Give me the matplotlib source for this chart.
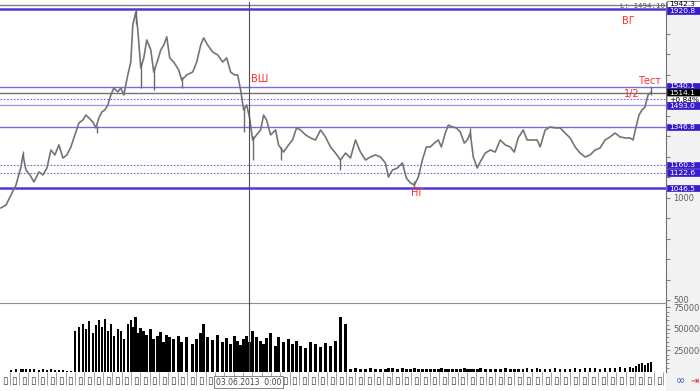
import numpy as np
import matplotlib
matplotlib.use("Agg")
import matplotlib.pyplot as plt
from matplotlib.patches import Rectangle

# time index of each bar (chart bar positions) and closing price
bar_t = [0, 5, 10, 15, 20, 22, 25, 29, 33, 38,
         42, 46, 50, 54, 58, 62, 66, 70, 74, 78,
         82, 85, 88, 92, 95, 98, 101, 104, 107, 110,
         113, 117, 120, 123, 127, 130, 132, 135, 137, 140,
         143, 146, 150, 153, 157, 160, 163, 166, 169, 173,
         178, 181, 186, 192, 196, 200, 203, 207, 212, 217,
         222, 226, 230, 234, 237, 240, 243, 246, 249, 252,
         256, 260, 263, 266, 270, 275, 278, 283, 288, 292,
         296, 300, 305, 310, 315, 320, 325, 330, 335, 340,
         345, 350, 355, 360, 365, 370, 375, 380, 385, 388,
         392, 397, 402, 406, 410, 414, 418, 422, 426, 430,
         434, 438, 441, 445, 448, 452, 456, 460, 464, 467,
         470, 473, 477, 480, 485, 490, 495, 500, 505, 510,
         514, 518, 523, 527, 532, 537, 540, 545, 550, 555,
         560, 565, 570, 575, 580, 585, 590, 595, 600, 605,
         610, 615, 620, 625, 630, 633, 636, 639, 642, 645,
         648, 651]

close = [950, 964, 1013, 1062, 1150, 1209, 1135, 1111, 1077, 1126,
         1111, 1145, 1233, 1209, 1258, 1194, 1209, 1248, 1307, 1365,
         1380, 1404, 1390, 1370, 1341, 1390, 1419, 1429, 1453, 1502,
         1536, 1517, 1536, 1502, 1600, 1663, 1844, 1908, 1820, 1634,
         1683, 1771, 1722, 1614, 1673, 1722, 1746, 1786, 1683, 1663,
         1624, 1575, 1600, 1614, 1663, 1746, 1781, 1746, 1712, 1698,
         1663, 1683, 1614, 1600, 1600, 1526, 1429, 1453, 1390, 1282,
         1307, 1331, 1404, 1380, 1307, 1331, 1258, 1223, 1258, 1282,
         1341, 1331, 1307, 1292, 1282, 1331, 1297, 1248, 1218, 1184,
         1218, 1194, 1282, 1223, 1184, 1199, 1209, 1199, 1170, 1101,
         1135, 1145, 1170, 1096, 1072, 1062, 1101, 1184, 1248, 1248,
         1267, 1282, 1248, 1316, 1355, 1346, 1341, 1321, 1267, 1282,
         1316, 1199, 1145, 1175, 1218, 1233, 1223, 1282, 1258, 1248,
         1223, 1292, 1331, 1282, 1282, 1282, 1248, 1331, 1346, 1341,
         1341, 1316, 1292, 1248, 1218, 1199, 1209, 1233, 1243, 1282,
         1297, 1316, 1297, 1292, 1292, 1282, 1346, 1404, 1429, 1443,
         1502, 1514]

# volume in thousands
volume_k = [0, 0, 25, 30, 35, 30, 35, 30, 30, 25,
            30, 25, 30, 20, 20, 20, 15, 15, 480, 520,
            560, 500, 590, 450, 540, 600, 520, 610, 480, 560,
            420, 500, 470, 380, 560, 600, 520, 640, 450, 510,
            470, 430, 500, 380, 420, 460, 350, 430, 400, 380,
            420, 350, 400, 330, 380, 450, 560, 400, 370, 430,
            350, 390, 330, 420, 360, 310, 380, 420, 350, 470,
            400, 360, 330, 390, 450, 300, 410, 350, 380, 330,
            360, 300, 280, 350, 320, 290, 340, 300, 360, 640,
            560, 40, 45, 35, 40, 45, 40, 35, 40, 45,
            50, 40, 45, 40, 35, 45, 40, 40, 35, 40,
            35, 40, 45, 40, 35, 40, 35, 40, 45, 40,
            40, 35, 40, 45, 40, 40, 35, 40, 45, 40,
            35, 40, 35, 45, 40, 45, 40, 35, 40, 45,
            40, 35, 40, 45, 40, 45, 50, 45, 40, 50,
            45, 50, 55, 45, 60, 50, 70, 90, 110, 80,
            100, 120]

# spikes (high/low wicks) at notable bars
wick_t = [22, 96, 135, 140, 153, 181, 243, 252, 280, 340, 414, 470, 651]
wick_hi = [1228, 1350, 1920.8, 1660, 1640, 1590, 1440, 1300, 1250, 1190, 1080, 1341, 1540.1]
wick_lo = [1200, 1318, 1850, 1536, 1526, 1536, 1321, 1184, 1184, 1135, 1046.5, 1290, 1500]

# horizontal levels
solid_levels = [1540.1, 1346.8]
thick_levels = [1920.8, 1046.5]
dotted_levels = [1483.7, 1160.3, 1122.6]
light_level = 1452
last_price = 1514.1
max_price = 1942.3
marker_t = 248

# price tags on the right scale (text, centre value after stacking)
tag_text = ["1942.3", "1920.8", "1540.1", "1514.1", "+0.84%", "1493.0",
            "1346.8", "1160.3", "1122.6", "1046.5"]
tag_pos = [1947, 1915, 1546, 1514, 1482, 1451, 1346.8, 1160.3, 1122.6, 1046.5]
tag_kind = ["max", "lvl", "lvl", "last", "pct", "lvl", "lvl", "lvl", "lvl", "lvl"]

violet = "#7a66e6"
dark_violet = "#5038d8"
box_blue = "#3a1ccc"
tag_style = {"max": ("white", "black", "#606060"),
             "lvl": (box_blue, "white", box_blue),
             "last": ("black", "white", "black"),
             "pct": ("white", "black", "#a0a0a0")}

fig = plt.figure(figsize=(7, 3.91), dpi=100)
fig.patch.set_facecolor("white")
fig.patches.append(Rectangle((0.9514, 0), 0.0486, 1, transform=fig.transFigure,
                             color="#f2f2f2", zorder=-1))

ax = fig.add_axes([0, 0.2251, 0.9514, 0.7698])
axv = fig.add_axes([0, 0.0486, 0.9514, 0.1765], sharex=ax)

for a in (ax, axv):
    a.set_facecolor("white")
    for s in ("left", "top", "bottom"):
        a.spines[s].set_visible(False)
    a.spines["right"].set_color("#707070")
    a.yaxis.tick_right()
    a.tick_params(axis="y", direction="out", length=3, color="#808080",
                  labelsize=6, labelcolor="#606060", pad=2)
axv.spines["top"].set_visible(True)
axv.spines["top"].set_color("#909090")

# price bars
ax.plot(bar_t, close, color="#747474", lw=1.2, zorder=3)
ax.vlines(wick_t, wick_lo, wick_hi, color="#6a6a6a", lw=1.0, zorder=3)

# levels
ax.axhline(max_price, color="#808080", lw=1.0, zorder=2)
for lv in thick_levels:
    ax.axhline(lv, color=dark_violet, lw=1.8, zorder=2)
for lv in solid_levels:
    ax.axhline(lv, color=violet, lw=1.0, zorder=2)
for lv in dotted_levels:
    ax.axhline(lv, color=violet, lw=0.8, ls=(0, (1.5, 1.5)), zorder=2)
ax.axhline(light_level, color="#a898f0", lw=1.0, zorder=2)
ax.axhline(last_price, color="#707070", lw=1.0, zorder=2)

ax.set_xlim(-1, 666)
ax.set_ylim(485.3, 1956.5)
ax.set_yticks(np.arange(500, 2000, 100))
ax.set_yticklabels(["500" if v == 500 else ("1000" if v == 1000 else "")
                    for v in np.arange(500, 2000, 100)])
ax.tick_params(axis="x", bottom=False, labelbottom=False)

# right side price tags: fixed-height boxes (about 6.5 px)
tr = ax.get_yaxis_transform()
box_h = 30.5
for txt, yv, kind in zip(tag_text, tag_pos, tag_kind):
    fc, tc, ec = tag_style[kind]
    ax.add_patch(Rectangle((1.002, yv - box_h / 2), 0.06, box_h, transform=tr,
                           fc=fc, ec=ec, lw=0.5, clip_on=False, zorder=6))
    ax.text(1.005, yv, txt, transform=tr, ha="left", va="center_baseline",
            fontsize=5.4, color=tc, clip_on=False, zorder=7)

ax.text(0.998, 0.997, "L: 1494.10", transform=ax.transAxes, ha="right", va="top",
        fontsize=5.3, family="DejaVu Sans Mono", color="#505050")

# red annotations
red = "#ff2a2a"
ax.text(628, 1865, "ВГ", color=red, fontsize=7, ha="center", va="center")
ax.text(250, 1578, "ВШ", color=red, fontsize=7, ha="left", va="center")
ax.text(417, 1025, "НГ", color=red, fontsize=7, ha="center", va="center")
ax.text(632, 1507, "1/2", color=red, fontsize=7, ha="center", va="center")
ax.text(650, 1570, "Тест", color=red, fontsize=7, ha="center", va="center")

ax.axvline(marker_t, color="#505050", lw=0.8, zorder=4)

# volume
axv.bar(bar_t, np.array(volume_k) * 1000, width=2.6, color="black", zorder=3)
axv.axvline(marker_t, color="#505050", lw=0.8, zorder=4)
axv.set_ylim(0, 800000)
axv.set_yticks([250000, 500000, 750000])
axv.set_yticklabels(["250000", "500000", "750000"])
axv.set_yticks(np.arange(50000, 800000, 50000), minor=True)
axv.tick_params(axis="y", which="minor", length=2, color="#808080")

xt = np.arange(4, 662, 9.35)
axv.set_xticks(xt)
axv.set_xticklabels(["▯"] * len(xt))
axv.set_xticks(xt + 4.67, minor=True)
axv.tick_params(axis="x", which="major", length=0, labelsize=7.5,
                labelcolor="#404040", pad=3)
axv.tick_params(axis="x", which="minor", length=9, color="#909090", direction="out")

axv.text(marker_t, -0.15, "03.06.2013  0:00", transform=axv.get_xaxis_transform(),
         ha="center", va="center", fontsize=5.5, color="#404040", clip_on=False,
         zorder=8, bbox=dict(boxstyle="square,pad=0.2", fc="white", ec="#707070", lw=0.6))

fig.text(0.972, 0.012, "∞", color="#3050d0", fontsize=8, ha="center", va="bottom")
fig.text(0.992, 0.012, "⇥", color="#e02020", fontsize=7, ha="center", va="bottom")

fig.savefig("out.png", dpi=100)
